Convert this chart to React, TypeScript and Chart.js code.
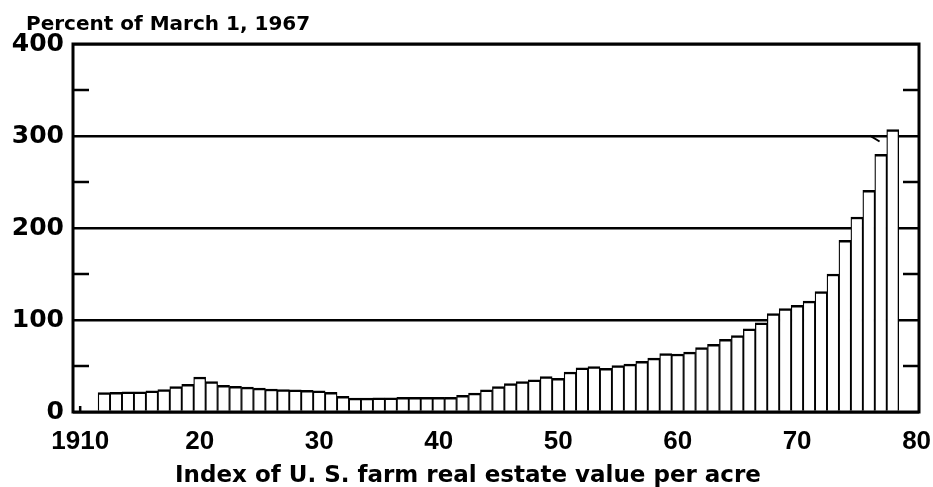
import { useEffect, useRef } from "react";
import { Chart, registerables } from "chart.js";

Chart.register(...registerables);

// ---- data ----
const FIRST_YEAR = 1912;
const farmValueIndex = [
  21, 21.5, 22, 22, 23, 24.5, 27.5, 30, 38, 33, // 1912-1921
  29, 28, 27, 26, 25, 24.5, 24, 23.5, 23, 21.5, // 1922-1931
  17, 15, 15, 15.5, 15.5, 16, 16, 16, 16, 16, // 1932-1941
  18, 20.5, 24, 27.5, 31, 33, 35, 38.5, 36.5, 43.5, // 1942-1951
  48, 49.5, 47.5, 50.5, 52, 55, 58.5, 63.5, 63, 65, // 1952-1961
  70, 73.5, 79, 83, 90.5, 97, 107, 112.5, 116, 120.5, // 1962-1971
  131, 150, 186.5, 212, 241, 280, 307, // 1972-1978
];
const years = farmValueIndex.map((_, i) => FIRST_YEAR + i);

const xTickValues = [1910, 1920, 1930, 1940, 1950, 1960, 1970, 1980];
const xTickLabels = ["1910", "20", "30", "40", "50", "60", "70", "80"];
const yTickValues = [0, 50, 100, 150, 200, 250, 300, 350, 400];
const yMajorValues = [0, 100, 200, 300, 400];
const yMinorValues = [50, 150, 250, 350];

const chartTitle = "Percent of March 1, 1967";
const xAxisTitle = "Index of U. S. farm real estate value per acre";

const FONT = "'DejaVu Sans', sans-serif";
const XFONT = "'Liberation Sans', Arial, sans-serif";

const decorPlugin = {
  id: "decor",
  afterDatasetsDraw(chart: any) {
    const { ctx, chartArea: a, scales } = chart;
    const xs = scales.x;
    const ys = scales.y;
    ctx.save();
    ctx.strokeStyle = "#000";
    ctx.lineCap = "butt";
    ctx.lineWidth = 2.5;
    const line = (x1: number, y1: number, x2: number, y2: number) => {
      ctx.beginPath();
      ctx.moveTo(x1, y1);
      ctx.lineTo(x2, y2);
      ctx.stroke();
    };
    for (const v of yMinorValues) {
      const py = ys.getPixelForValue(v);
      line(a.left, py, a.left + 16, py);
      line(a.right - 16, py, a.right, py);
    }
    // small tick at 1910 on the baseline
    const px1910 = xs.getPixelForValue(1910);
    line(px1910, a.bottom, px1910, a.bottom - 6);
    // pointer near the last bar
    ctx.lineWidth = 2;
    line(
      xs.getPixelForValue(1976.1),
      ys.getPixelForValue(300.5),
      xs.getPixelForValue(1976.9),
      ys.getPixelForValue(294)
    );
    // frame
    ctx.lineWidth = 3;
    ctx.strokeRect(a.left, a.top, a.right - a.left, a.bottom - a.top);
    ctx.restore();
  },
  afterDraw(chart: any) {
    const { ctx } = chart;
    ctx.save();
    ctx.fillStyle = "#000";
    ctx.font = `bold 20px ${FONT}`;
    ctx.textAlign = "left";
    ctx.textBaseline = "alphabetic";
    ctx.fillText(chartTitle, 26, 30);
    ctx.font = `bold 23px ${FONT}`;
    ctx.textAlign = "center";
    ctx.textBaseline = "alphabetic";
    ctx.fillText(xAxisTitle, 468, 482);
    ctx.restore();
  },
};

export default function App() {
  const canvasRef = useRef<HTMLCanvasElement | null>(null);

  useEffect(() => {
    const canvas = canvasRef.current;
    if (!canvas) return;
    const chart = new Chart(canvas, {
      type: "bar",
      data: {
        datasets: [
          {
            data: years.map((yr, i) => ({ x: yr, y: farmValueIndex[i] })),
            backgroundColor: "#ffffff",
            borderColor: "#000000",
            borderWidth: { top: 2.5, left: 1.3, right: 1.3, bottom: 0 },
            borderSkipped: "bottom",
            barPercentage: 1,
            categoryPercentage: 1,
          },
        ],
      },
      plugins: [decorPlugin],
      options: {
        responsive: false,
        animation: false,
        events: [],
        layout: { padding: { top: 44, right: 14, left: 0, bottom: 0 } },
        plugins: {
          legend: { display: false },
          tooltip: { enabled: false },
          title: { display: false },
        },
        scales: {
          x: {
            type: "linear",
            offset: false,
            min: 1909.4,
            max: 1980.2,
            grid: { display: false, drawTicks: false, tickLength: 0 },
            border: { display: false },
            afterBuildTicks: (scale: any) => {
              scale.ticks = xTickValues.map((v) => ({ value: v }));
            },
            afterFit: (scale: any) => {
              scale.height = 75;
              scale.paddingLeft = 0;
              scale.paddingRight = 0;
            },
            ticks: {
              autoSkip: false,
              maxRotation: 0,
              padding: 14,
              color: "#000",
              font: { family: XFONT, size: 26, weight: "bold" },
              callback: (value: any) => {
                const idx = xTickValues.indexOf(Number(value));
                return idx >= 0 ? xTickLabels[idx] : "";
              },
            },
          },
          y: {
            type: "linear",
            min: 0,
            max: 400,
            grid: {
              drawTicks: false,
              tickLength: 0,
              lineWidth: 2.5,
              color: (ctx: any) =>
                ctx.tick && yMajorValues.includes(ctx.tick.value) ? "#000" : "rgba(0,0,0,0)",
            },
            border: { display: false },
            afterBuildTicks: (scale: any) => {
              scale.ticks = yTickValues.map((v) => ({ value: v }));
            },
            afterFit: (scale: any) => {
              scale.width = 73;
              scale.paddingTop = 0;
              scale.paddingBottom = 0;
            },
            ticks: {
              autoSkip: false,
              padding: 9,
              color: "#000",
              font: { family: FONT, size: 25, weight: "bold" },
              callback: (value: any) =>
                yMajorValues.includes(Number(value)) ? String(value) : "",
            },
          },
        },
      },
    } as any);
    return () => chart.destroy();
  }, []);

  return (
    <div style={{ position: "fixed", left: 0, top: 0, width: 933, height: 487, background: "#fff" }}>
      <canvas ref={canvasRef} width={933} height={487} />
    </div>
  );
}
